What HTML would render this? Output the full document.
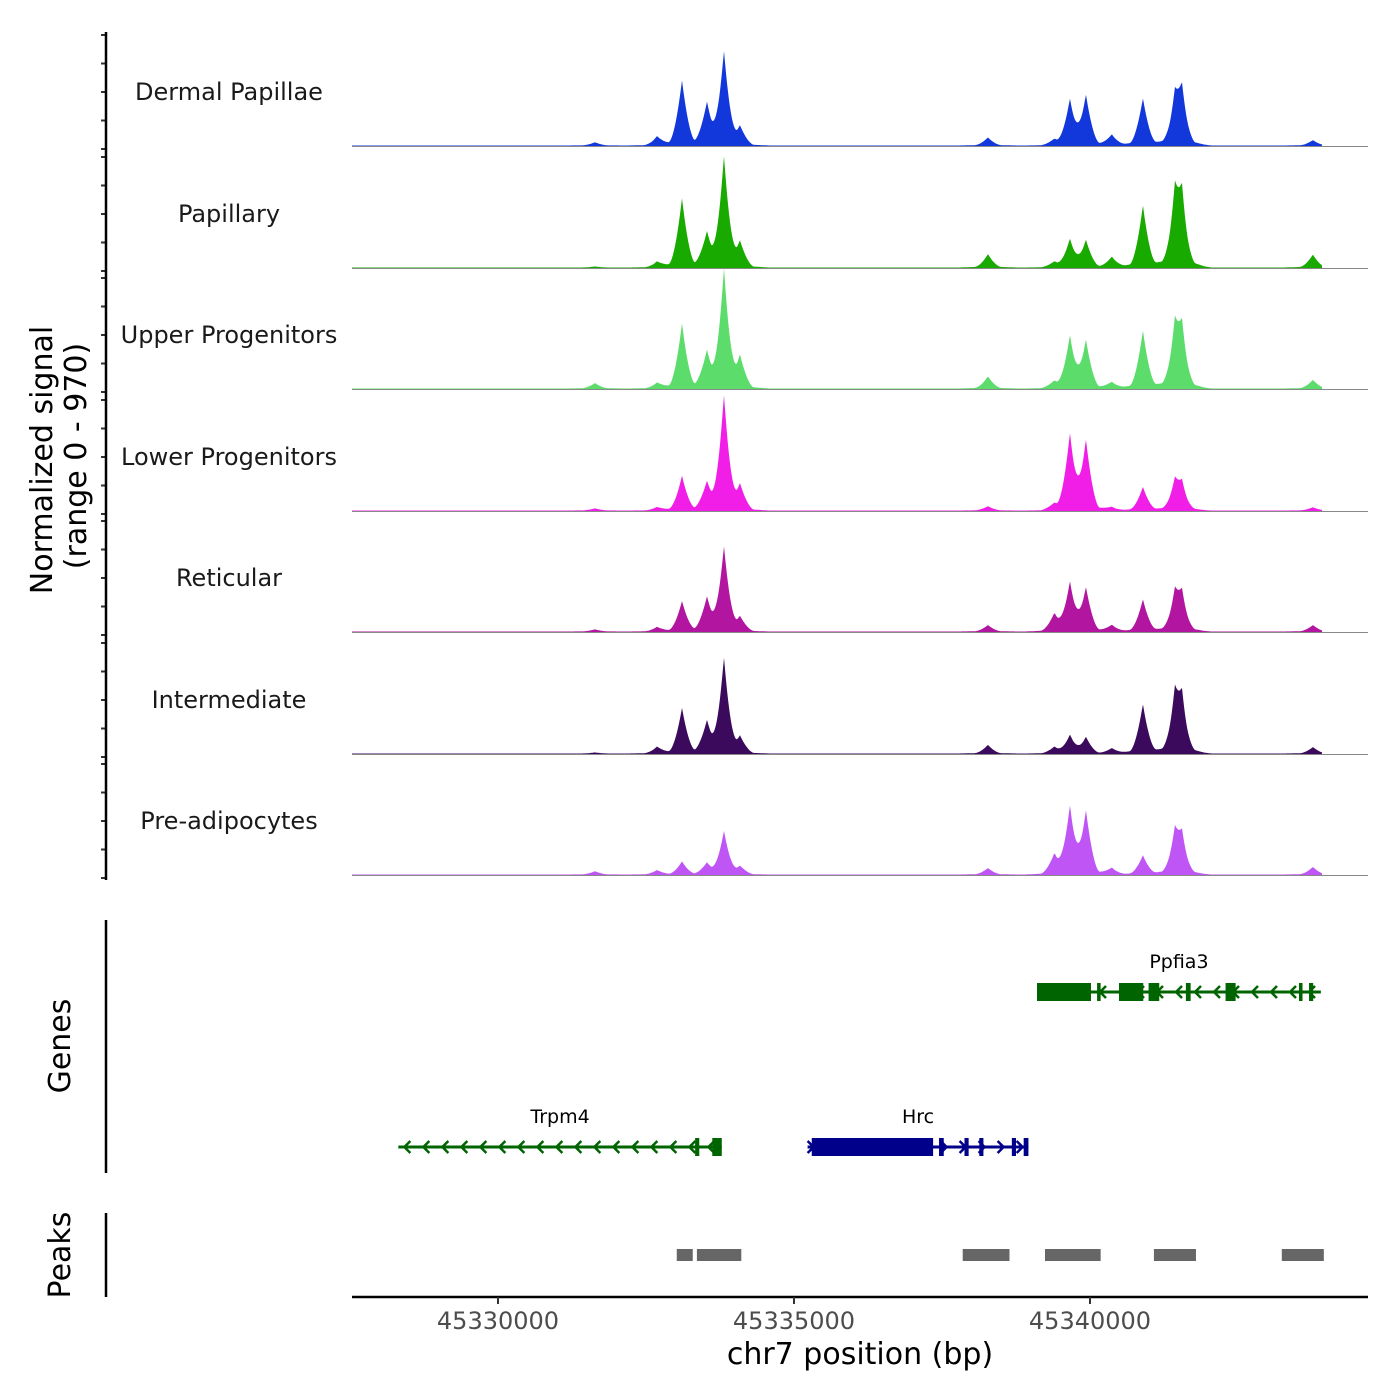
<!DOCTYPE html>
<html><head><meta charset="utf-8">
<style>
body{margin:0;background:#fff;}
svg{display:block;font-family:"DejaVu Sans","Liberation Sans",sans-serif;}
</style></head>
<body>
<svg id="chart" width="1400" height="1400" viewBox="0 0 1400 1400" xmlns="http://www.w3.org/2000/svg">
<g id="tracks"></g>
<g id="axes"></g>
<g id="genes"></g>
<g id="peaks"></g>
</svg>
<script>
// ---- data ----
const trackNames = ["Dermal Papillae","Papillary","Upper Progenitors","Lower Progenitors","Reticular","Intermediate","Pre-adipocytes"];
const trackColors = ["#1238dc","#19aa00","#5cdc6a","#f01ee6","#b2159f","#3c0a5c","#c055f6"];
const peakPos = [45331638,45332686,45333108,45333530,45333817,45334087,45338276,45339400,45339661,45339931,45340370,45340894,45341435,45341553,45343765];
const hDermal  = [24,64,480,300,690,128,60,40,336,368,80,352,320,376,40];
const hPapill  = [8,40,512,240,816,176,100,40,208,200,80,464,500,480,96];
const hUpper   = [40,40,480,256,880,224,90,48,384,352,48,432,420,400,64];
const hLower   = [16,24,256,192,848,176,32,40,560,512,24,176,200,176,24];
const hRetic   = [16,32,224,240,624,96,48,128,360,320,48,240,260,248,48];
const hInterm  = [8,48,336,224,704,112,64,48,136,120,40,368,400,368,48];
const hPreadip = [24,32,96,80,320,56,48,144,496,464,48,144,290,256,56];
const trackHeights = [hDermal,hPapill,hUpper,hLower,hRetic,hInterm,hPreadip];
const yMax = 970;
const xTicks = [45330000,45335000,45340000];
const xTickLabels = ["45330000","45335000","45340000"];
const peakStarts = [45333020,45333360,45337850,45339240,45341080,45343240];
const peakEnds   = [45333290,45334110,45338640,45340180,45341790,45343950];
const genes = [
 {name:"Ppfia3", strand:-1, color:"#006400", start:45339105, end:45343900, row:0, thickStart:45339105, thickEnd:45340017,
  exons:[[45340120,45340180],[45340490,45340900],[45340990,45341170],[45341620,45341700],[45342290,45342460],[45343530,45343590],[45343700,45343770]]},
 {name:"Trpm4", strand:-1, color:"#006400", start:45328317, end:45333780, row:1, thickStart:0, thickEnd:0,
  exons:[[45333330,45333400],[45333620,45333780]]},
 {name:"Hrc", strand:1, color:"#00008b", start:45335230, end:45338960, row:1, thickStart:45335300, thickEnd:45337350,
  exons:[[45337450,45337530],[45337880,45337950],[45338130,45338200],[45338680,45338750],[45338880,45338960]]}
];
// ---- scales ----
const X0=352, X1=1368, BP0=45327534, PXPERBP=296/5000;
const xs = bp => X0 + (bp-BP0)*PXPERBP;
const baselines=[146,268,389,511,632,754,875];
const trackPx=121;
const ys = (v,i) => baselines[i] - v/yMax*trackPx;
const NS="http://www.w3.org/2000/svg";
function mk(tag,attrs,parent){const e=document.createElementNS(NS,tag);for(const k in attrs)e.setAttribute(k,attrs[k]);parent.appendChild(e);return e;}
const tracks=document.getElementById('tracks');
const axes=document.getElementById('axes');
trackNames.forEach((nm,i)=>{
  const hs=trackHeights[i];
  let d="M"+X0+","+baselines[i];
  for(let px=352;px<=1322;px+=1){
    const bp=BP0+(px-X0)/PXPERBP;
    let v=4;
    for(let k=0;k<peakPos.length;k++){
      const w = 230;
      const t=1-Math.abs(bp-peakPos[k])/w;
      if(t>0) v+=hs[k]*Math.pow(t,1.8);
      const t2=1-Math.abs(bp-peakPos[k])/500;
      if(t2>0) v+=hs[k]*0.08*t2;
    }
    d+=" L"+px+","+ys(Math.min(v,yMax),i).toFixed(1);
  }
  d+=" L1322,"+baselines[i]+" Z";
  const p=mk('path',{d:d,fill:trackColors[i]},tracks);
  
  
  const bl=mk('line',{x1:X0,x2:X1,y1:baselines[i]+0.5,y2:baselines[i]+0.5,stroke:'#888','stroke-width':1},tracks);
  
  
  const t=mk('text',{x:229,y:baselines[i]-46,'text-anchor':'middle','font-size':24,fill:'#1a1a1a'},tracks);
  t.textContent=nm;
  
  
  for(let k=0;k<5;k++){
    const ty=baselines[i]+3-k*28.5;
    const tk=mk('line',{x1:101,x2:106,y1:ty,y2:ty,stroke:'#333','stroke-width':2},axes);
    
    
  }
});
[[32,880],[920,1173],[1213,1297]].forEach(([a,b])=>{
  const l=mk('line',{x1:106,x2:106,y1:a,y2:b,stroke:'#000','stroke-width':2.5},axes);
  
  
});
const xl=mk('line',{x1:X0,x2:X1,y1:1297,y2:1297,stroke:'#000','stroke-width':2.5},axes);


xTicks.forEach((v,i)=>{
  const tk=mk('line',{x1:xs(v),x2:xs(v),y1:1297,y2:1304,stroke:'#333','stroke-width':2},axes);
  
  
  const t=mk('text',{x:xs(v),y:1329,'text-anchor':'middle','font-size':24,fill:'#4d4d4d'},axes);
  t.textContent=xTickLabels[i];
  
  
});
const xt=mk('text',{x:860,y:1364,'text-anchor':'middle','font-size':30,fill:'#000'},axes);
xt.textContent="chr7 position (bp)";


const yt=mk('text',{transform:'translate(52,460) rotate(-90)','text-anchor':'middle','font-size':30,fill:'#000'},axes);
yt.textContent="Normalized signal";


const yt2=mk('text',{transform:'translate(86,456) rotate(-90)','text-anchor':'middle','font-size':30,fill:'#000'},axes);
yt2.textContent="(range 0 - 970)";


const gt=mk('text',{transform:'translate(70,1046) rotate(-90)','text-anchor':'middle','font-size':30,fill:'#000'},axes);
gt.textContent="Genes";


const pt=mk('text',{transform:'translate(70,1255) rotate(-90)','text-anchor':'middle','font-size':30,fill:'#000'},axes);
pt.textContent="Peaks";


const gg=document.getElementById('genes');
const rowY=[992,1147];
genes.forEach(g=>{
  const y=rowY[g.row], c=g.color;
  const grp=mk('g',{},gg);
  
  
  mk('line',{x1:xs(g.start),x2:xs(g.end),y1:y,y2:y,stroke:c,'stroke-width':3},grp);
  const step=19;
  for(let px=xs(g.start)+6;px<xs(g.end)-4;px+=step){
    const dx=g.strand*-6;
    mk('polyline',{points:(px+dx)+","+(y-6)+" "+px+","+y+" "+(px+dx)+","+(y+6),fill:'none',stroke:c,'stroke-width':2.5},grp);
  }
  if(g.thickEnd>g.thickStart){
    mk('rect',{x:xs(g.thickStart),y:y-9,width:xs(g.thickEnd)-xs(g.thickStart),height:18,fill:c},grp);
  }
  g.exons.forEach(e=>{
    mk('rect',{x:xs(e[0]),y:y-9,width:Math.max(3,xs(e[1])-xs(e[0])),height:18,fill:c},grp);
  });
  const t=mk('text',{x:(xs(g.start)+xs(g.end))/2,y:y-24,'text-anchor':'middle','font-size':19,fill:'#000'},grp);
  t.textContent=g.name;
  
  
});
const pg=document.getElementById('peaks');
peakStarts.forEach((s,i)=>{
  const r=mk('rect',{x:xs(s),y:1249,width:xs(peakEnds[i])-xs(s),height:12,fill:'#666'},pg);
  
  
});
</script>
</body></html>
